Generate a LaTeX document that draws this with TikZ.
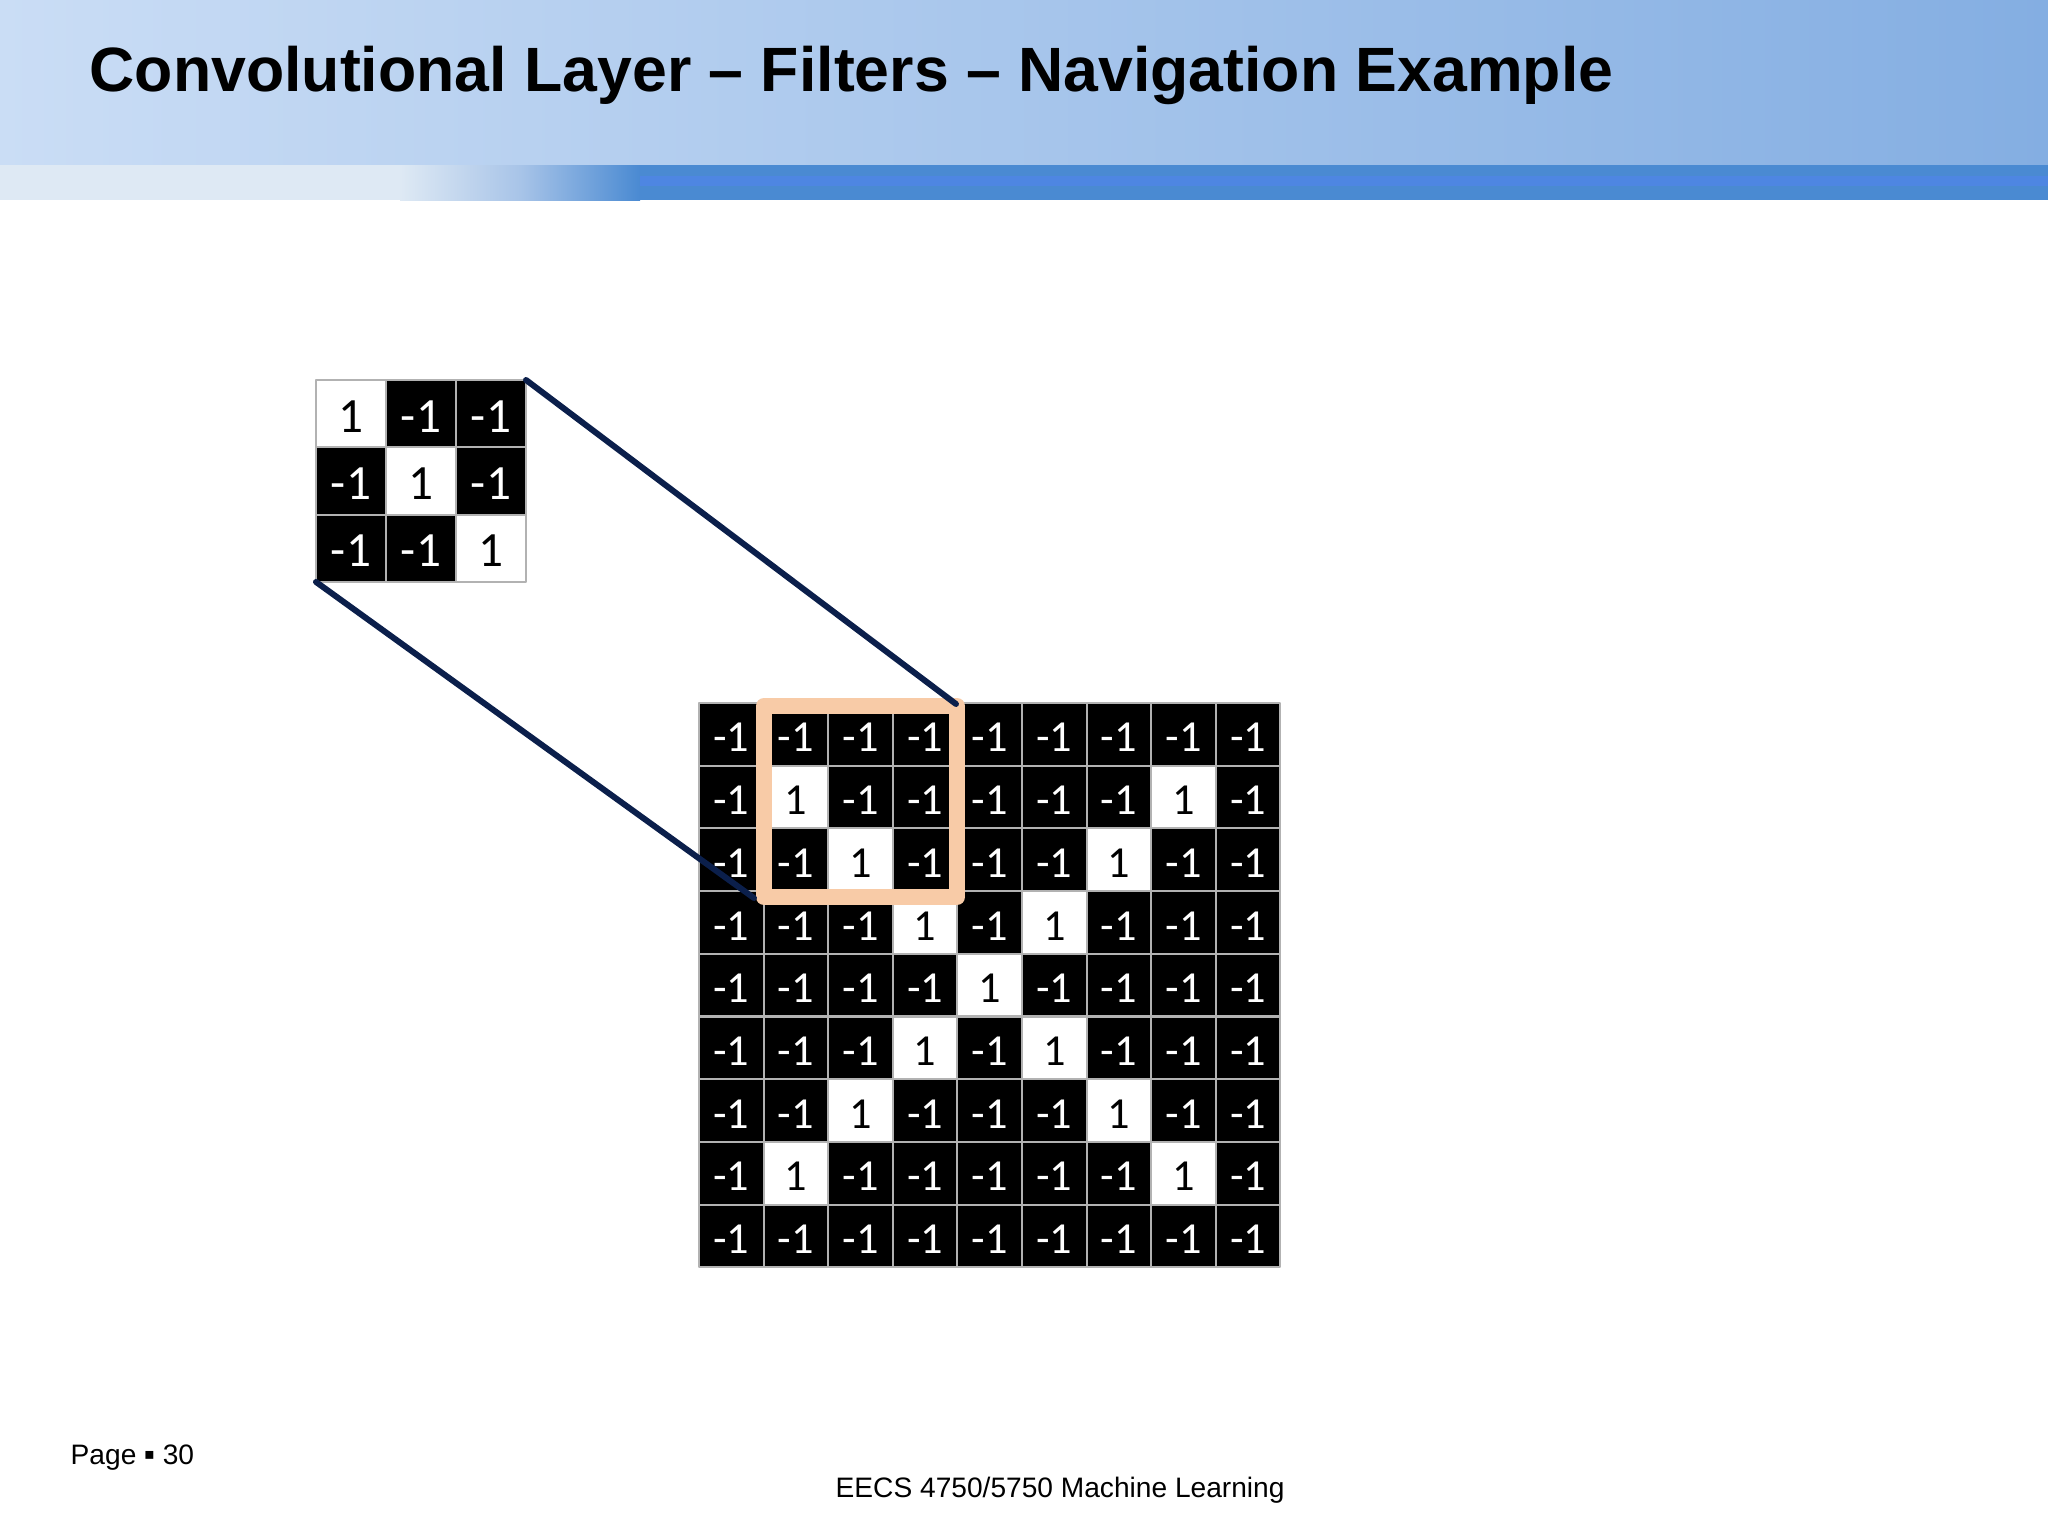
\documentclass[tikz,border=0pt]{standalone}
\usepackage{fontspec}
\setmainfont{Liberation Sans}
\newfontfamily\cellfont{Carlito}
\newfontfamily\symfont{DejaVu Sans}
\definecolor{navy}{RGB}{11,31,75}
\definecolor{peach}{RGB}{248,203,167}
\definecolor{cellgray}{RGB}{178,178,178}
\definecolor{bandL}{RGB}{202,221,245}
\definecolor{bandM}{RGB}{180,206,238}
\definecolor{bandR}{RGB}{132,174,226}
\definecolor{stripe}{RGB}{74,138,210}
\definecolor{stripeHi}{RGB}{78,134,226}
\definecolor{stripeL}{RGB}{222,233,244}
\definecolor{stripeM}{RGB}{168,196,232}
\begin{document}
\begin{tikzpicture}[x=0.01cm,y=-0.01cm, line join=round, line cap=round,
        cell/.style={draw=cellgray, line width=0.6pt, inner sep=0pt, outer sep=0pt,
                minimum width=6.46mm, minimum height=6.27mm, text height=10pt, text depth=0pt,
                font=\cellfont\fontsize{12.6}{14}\selectfont},
        kcell/.style={cell, minimum width=7mm, minimum height=6.73mm, text height=10.5pt,
                font=\cellfont\fontsize{14}{16}\selectfont},
        on/.style={fill=white, text=black},
        off/.style={fill=black, text=white}]
                \useasboundingbox (0,0) rectangle (2048,1536);
                \fill[white] (0,0) rectangle (2048,1536);
                \fill[left color=bandL, middle color=bandM, right color=bandR] (0,0) rectangle (2048,165);
                \fill[stripeL] (0,165) rectangle (400,200);
                \fill[left color=stripeL, right color=stripeM] (400,165) rectangle (520,200);
                \fill[left color=stripeM, right color=stripe] (520,165) rectangle (640,200);
                \fill[stripe] (640,165) rectangle (2048,200);
                \fill[stripeHi] (640,176) rectangle (2048,186);
                \node[anchor=base west, inner sep=0pt, font=\bfseries\fontsize{17.8}{20}\selectfont] (title) at (89,91) {Convolutional Layer – Filters – Navigation Example};
                \foreach \r in {0,1,2}
                \foreach \c in {0,1,2}{
                        \ifnum\r=\c \node[kcell,on] (k-\r-\c) at ({316+70*(\c+0.5)},{380+67.3*(\r+0.5)}) {1};
                        \else \node[kcell,off] (k-\r-\c) at ({316+70*(\c+0.5)},{380+67.3*(\r+0.5)}) {-1}; \fi
                }
                \foreach \r in {0,...,8}
                \foreach \c in {0,...,8}{
                        \pgfmathtruncatemacro\w{(\r>0)*(\r<8)*((\c==\r)+(\c==8-\r)>0)}
                        \ifnum\w=1 \node[cell,on] (g-\r-\c) at ({699+64.6*(\c+0.5)},{703+62.7*(\r+0.5)}) {1};
                        \else \node[cell,off] (g-\r-\c) at ({699+64.6*(\c+0.5)},{703+62.7*(\r+0.5)}) {-1}; \fi
                }
                \coordinate (box-nw) at (764,706);
                \coordinate (box-se) at (957,897);
                \coordinate (box-ne) at (956,704);
                \coordinate (box-sw) at (754,898);
                \draw[peach, line width=4.55pt] (box-nw) rectangle (box-se);
                \draw[navy, line width=1.7pt] (k-0-2.north east) -- (box-ne);
                \draw[navy, line width=1.7pt] (k-2-0.south west) -- (box-sw);
                \node[anchor=base west, inner sep=0pt, font=\fontsize{8}{10}\selectfont] (page) at (70,1464) {Page \raisebox{1.2pt}{\symfont\fontsize{4.5}{5}\selectfont ▪} 30};
                \node[anchor=base west, inner sep=0pt, font=\fontsize{8}{10}\selectfont] (course) at (835,1497) {EECS 4750/5750 Machine Learning};
        \end{tikzpicture}
\end{document}
